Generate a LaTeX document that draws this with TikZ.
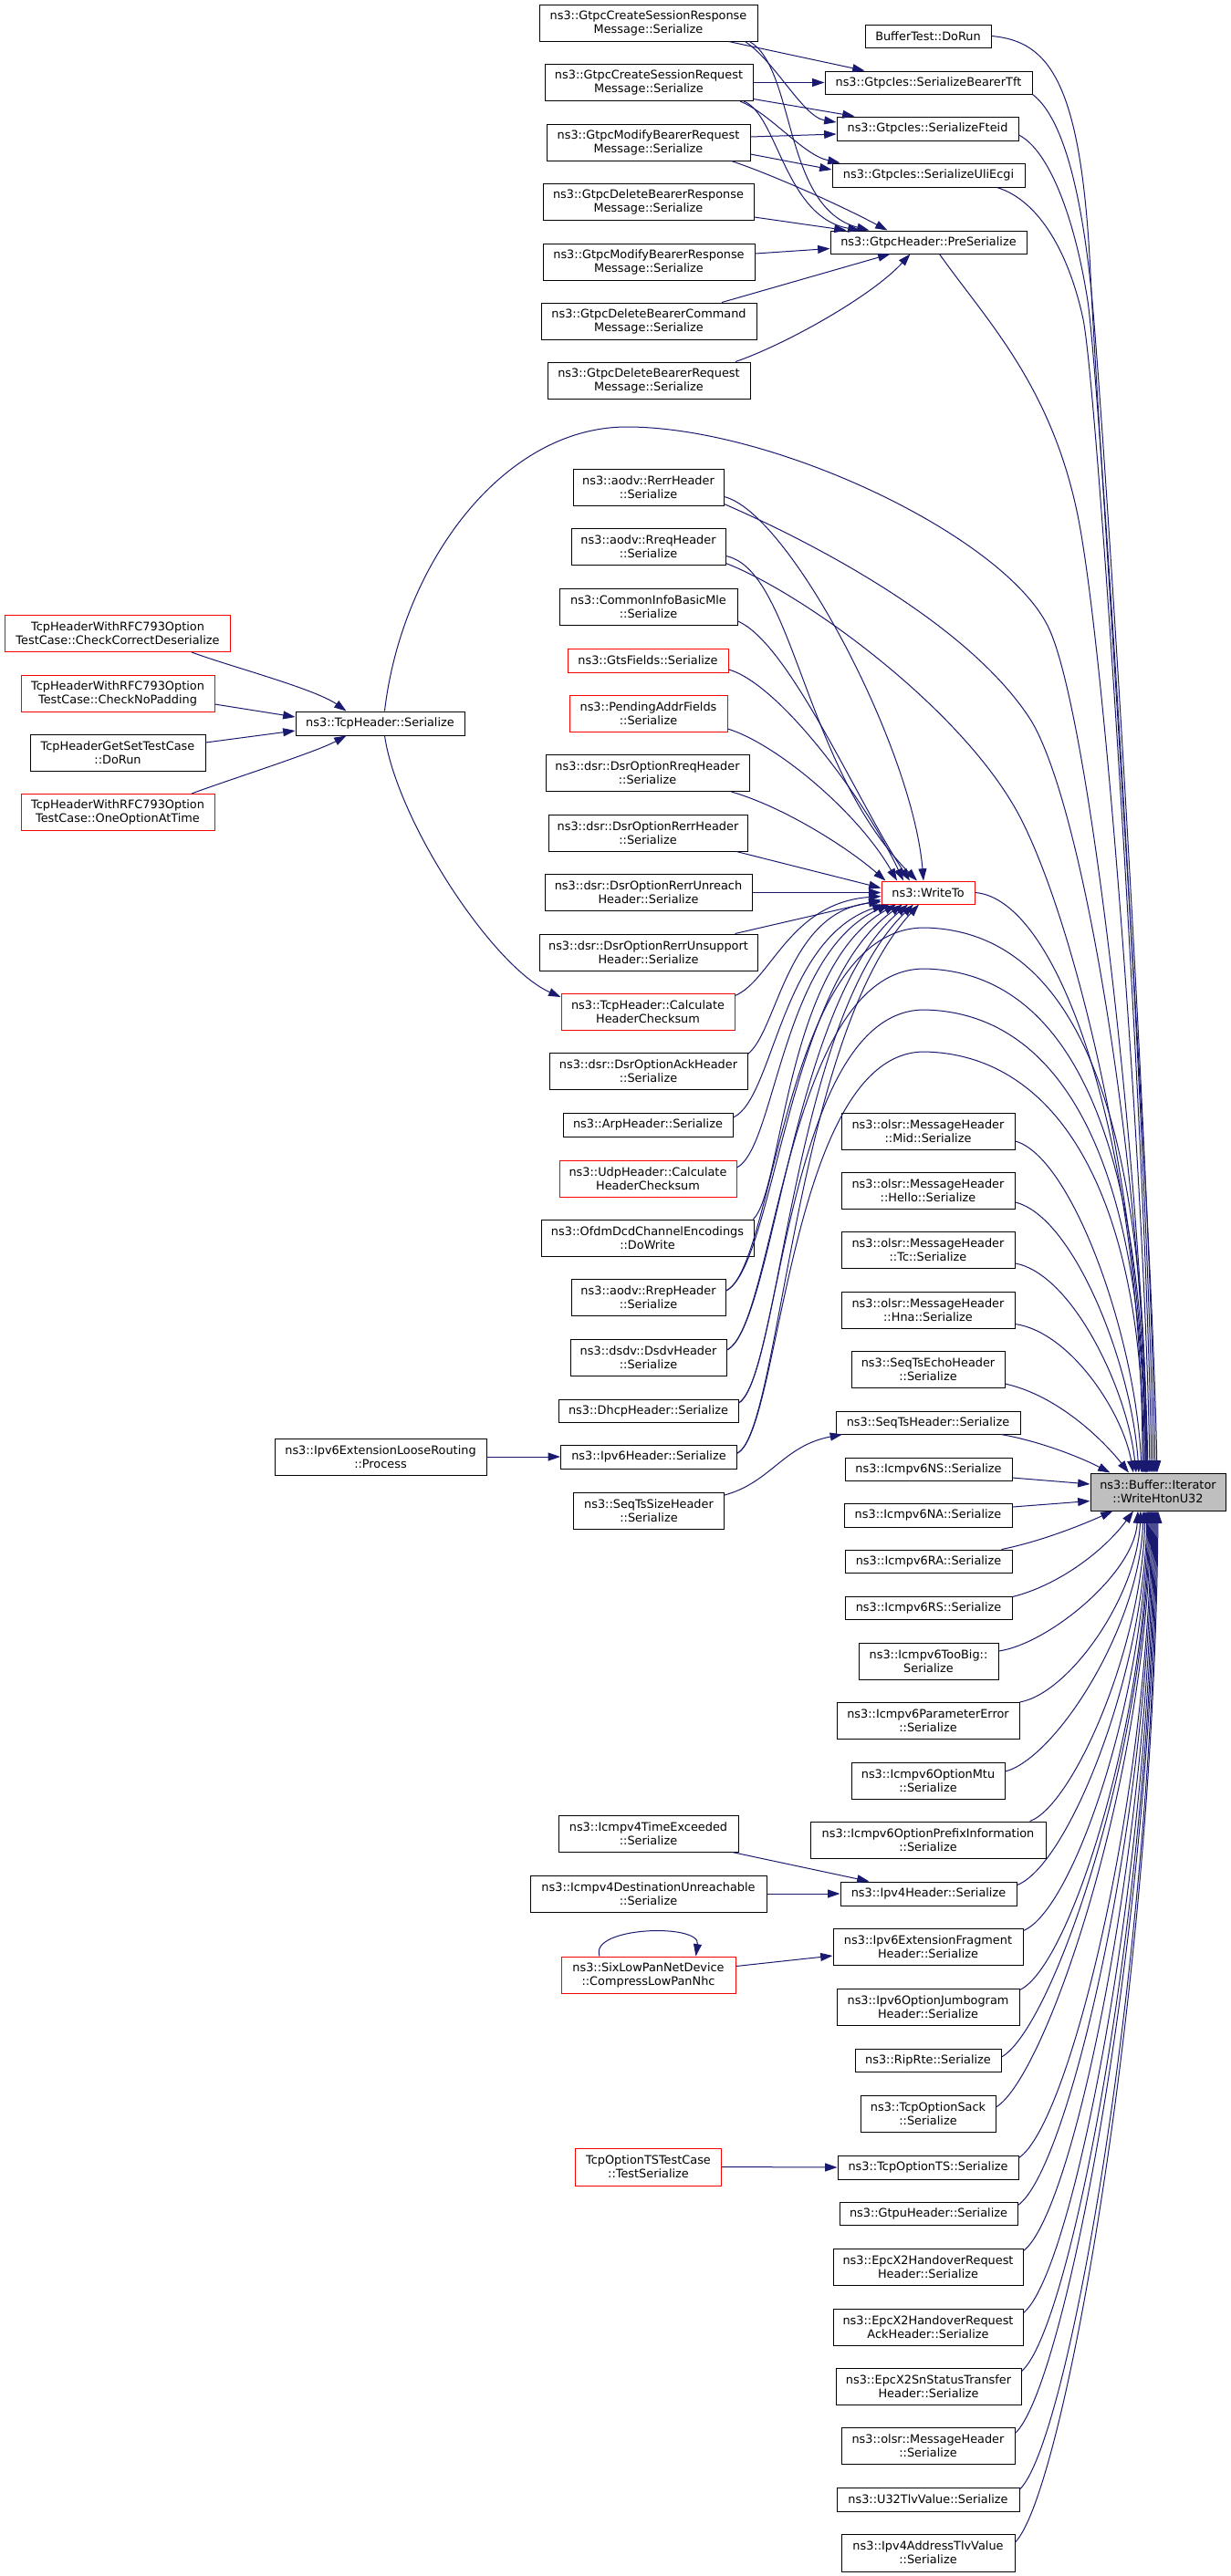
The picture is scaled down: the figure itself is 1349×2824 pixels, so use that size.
\documentclass[tikz,border=0pt]{standalone}
\usepackage{fontspec}
\newfontfamily\nf{DejaVu Sans}
\usetikzlibrary{arrows.meta,calc}
\definecolor{edgec}{HTML}{191970}
\definecolor{rootfill}{HTML}{BFBFBF}
\tikzset{
 bx/.style={draw=black, line width=0.75pt, fill=white, inner sep=0pt, align=center, font={\nf\fontsize{9.65}{11.25}\selectfont}},
 rd/.style={draw=red},
 e/.style={draw=edgec, line width=0.75pt, -{Triangle[length=10pt,width=6.7pt]}},
}
\newcommand{\mkn}[7]{\node[bx,#6,minimum width=#4*0.75pt,minimum height=#5*0.75pt] (#1) at (#2,#3) {#7};}
\begin{document}
\begin{tikzpicture}[x=0.75pt,y=-0.75pt]
\fill[white] (0,0) rectangle (1349,2824);
\useasboundingbox (0,0) rectangle (1349,2824);
% ---- Gtpc callers
\mkn{g1}{710.5}{25}{239}{40}{}{ns3::GtpcCreateSessionResponse\\Message::Serialize}
\mkn{g2}{711}{90.5}{228}{40}{}{ns3::GtpcCreateSessionRequest\\Message::Serialize}
\mkn{g3}{710.5}{156}{223}{40}{}{ns3::GtpcModifyBearerRequest\\Message::Serialize}
\mkn{g4}{710.5}{221}{231}{40}{}{ns3::GtpcDeleteBearerResponse\\Message::Serialize}
\mkn{g5}{711}{287}{232}{40}{}{ns3::GtpcModifyBearerResponse\\Message::Serialize}
\mkn{g6}{711}{352}{236}{40}{}{ns3::GtpcDeleteBearerCommand\\Message::Serialize}
\mkn{g7}{711}{417}{222}{40}{}{ns3::GtpcDeleteBearerRequest\\Message::Serialize}
\mkn{bt}{1017}{39.5}{138}{25}{}{BufferTest::DoRun}
\mkn{tft}{1017.5}{90.5}{227}{25}{}{ns3::GtpcIes::SerializeBearerTft}
\mkn{fteid}{1016.5}{141}{199}{26}{}{ns3::GtpcIes::SerializeFteid}
\mkn{uli}{1017.5}{192}{211}{26}{}{ns3::GtpcIes::SerializeUliEcgi}
\mkn{pre}{1017.5}{265.5}{215}{25}{}{ns3::GtpcHeader::PreSerialize}
% ---- middle column
\mkn{rerr}{710.5}{534.5}{165}{40}{}{ns3::aodv::RerrHeader\\::Serialize}
\mkn{rreq}{710.5}{599.5}{169}{40}{}{ns3::aodv::RreqHeader\\::Serialize}
\mkn{cib}{710.5}{665}{195}{40}{}{ns3::CommonInfoBasicMle\\::Serialize}
\mkn{gts}{710}{724}{176}{26}{rd}{ns3::GtsFields::Serialize}
\mkn{pend}{710.5}{782}{173}{40}{rd}{ns3::PendingAddrFields\\::Serialize}
\mkn{drreq}{709.5}{847.5}{223}{40}{}{ns3::dsr::DsrOptionRreqHeader\\::Serialize}
\mkn{drerr}{710}{913}{218}{40}{}{ns3::dsr::DsrOptionRerrHeader\\::Serialize}
\mkn{unreach}{710.5}{978.5}{227}{40}{}{ns3::dsr::DsrOptionRerrUnreach\\Header::Serialize}
\mkn{unsup}{710.5}{1044}{239}{40}{}{ns3::dsr::DsrOptionRerrUnsupport\\Header::Serialize}
\mkn{tcpcs}{710}{1109}{190}{40}{rd}{ns3::TcpHeader::Calculate\\HeaderChecksum}
\mkn{ack}{710.5}{1174.5}{217}{40}{}{ns3::dsr::DsrOptionAckHeader\\::Serialize}
\mkn{arp}{710}{1233}{186}{26}{}{ns3::ArpHeader::Serialize}
\mkn{udpcs}{710}{1292}{194}{40}{rd}{ns3::UdpHeader::Calculate\\HeaderChecksum}
\mkn{ofdm}{709.5}{1357}{233}{40}{}{ns3::OfdmDcdChannelEncodings\\::DoWrite}
\mkn{rrep}{710.5}{1422}{169}{40}{}{ns3::aodv::RrepHeader\\::Serialize}
\mkn{dsdv}{710.5}{1488}{171}{40}{}{ns3::dsdv::DsdvHeader\\::Serialize}
\mkn{dhcp}{710.5}{1546.5}{197}{25}{}{ns3::DhcpHeader::Serialize}
\mkn{ipv6}{711}{1597}{193}{26}{}{ns3::Ipv6Header::Serialize}
\mkn{seqsize}{711}{1656}{165}{40}{}{ns3::SeqTsSizeHeader\\::Serialize}
\mkn{i4te}{710.5}{2010}{197}{40}{}{ns3::Icmpv4TimeExceeded\\::Serialize}
\mkn{i4du}{710.5}{2076}{259}{40}{}{ns3::Icmpv4DestinationUnreachable\\::Serialize}
\mkn{sixlow}{710.5}{2165}{191}{40}{rd}{ns3::SixLowPanNetDevice\\::CompressLowPanNhc}
\mkn{tsts}{710.5}{2375.5}{160}{41}{rd}{TcpOptionTSTestCase\\::TestSerialize}
% ---- right column
\mkn{wt}{1017}{978.5}{102}{25}{rd}{ns3::WriteTo}
\mkn{mid}{1017}{1240}{190}{40}{}{ns3::olsr::MessageHeader\\::Mid::Serialize}
\mkn{hello}{1017}{1305}{190}{40}{}{ns3::olsr::MessageHeader\\::Hello::Serialize}
\mkn{tc}{1017}{1370.5}{190}{40}{}{ns3::olsr::MessageHeader\\::Tc::Serialize}
\mkn{hna}{1017}{1436}{190}{40}{}{ns3::olsr::MessageHeader\\::Hna::Serialize}
\mkn{echo}{1017}{1501}{168}{40}{}{ns3::SeqTsEchoHeader\\::Serialize}
\mkn{seqh}{1017}{1559.5}{202}{25}{}{ns3::SeqTsHeader::Serialize}
\mkn{ns}{1017.5}{1610.5}{183}{25}{}{ns3::Icmpv6NS::Serialize}
\mkn{na}{1017}{1661}{184}{26}{}{ns3::Icmpv6NA::Serialize}
\mkn{ra}{1017.5}{1711.5}{183}{25}{}{ns3::Icmpv6RA::Serialize}
\mkn{rs}{1017.5}{1762.5}{183}{25}{}{ns3::Icmpv6RS::Serialize}
\mkn{toobig}{1017.5}{1821}{153}{40}{}{ns3::Icmpv6TooBig::\\Serialize}
\mkn{perr}{1017}{1886.5}{200}{40}{}{ns3::Icmpv6ParameterError\\::Serialize}
\mkn{mtu}{1017}{1952}{168}{40}{}{ns3::Icmpv6OptionMtu\\::Serialize}
\mkn{pinfo}{1017}{2017}{258}{40}{}{ns3::Icmpv6OptionPrefixInformation\\::Serialize}
\mkn{ipv4h}{1017.5}{2076}{193}{26}{}{ns3::Ipv4Header::Serialize}
\mkn{frag}{1017}{2134}{208}{40}{}{ns3::Ipv6ExtensionFragment\\Header::Serialize}
\mkn{jumbo}{1017}{2200}{200}{40}{}{ns3::Ipv6OptionJumbogram\\Header::Serialize}
\mkn{rip}{1017}{2258.5}{160}{25}{}{ns3::RipRte::Serialize}
\mkn{sack}{1017}{2317}{148}{40}{}{ns3::TcpOptionSack\\::Serialize}
\mkn{ots}{1017}{2376}{198}{26}{}{ns3::TcpOptionTS::Serialize}
\mkn{gtpu}{1017.5}{2426.5}{195}{25}{}{ns3::GtpuHeader::Serialize}
\mkn{hr}{1017}{2485}{208}{40}{}{ns3::EpcX2HandoverRequest\\Header::Serialize}
\mkn{hrack}{1017}{2551}{208}{40}{}{ns3::EpcX2HandoverRequest\\AckHeader::Serialize}
\mkn{sn}{1017.5}{2616}{203}{40}{}{ns3::EpcX2SnStatusTransfer\\Header::Serialize}
\mkn{omh}{1017}{2681}{190}{40}{}{ns3::olsr::MessageHeader\\::Serialize}
\mkn{u32}{1017}{2740}{200}{26}{}{ns3::U32TlvValue::Serialize}
\mkn{i4tlv}{1017}{2798.5}{190}{41}{}{ns3::Ipv4AddressTlvValue\\::Serialize}
\mkn{W}{1269}{1635.5}{148}{41}{fill=rootfill}{ns3::Buffer::Iterator\\::WriteHtonU32}
% ---- left
\mkn{tcpser}{416.5}{793}{185}{26}{}{ns3::TcpHeader::Serialize}
\mkn{l1}{129}{694.5}{247}{40}{rd}{TcpHeaderWithRFC793Option\\TestCase::CheckCorrectDeserialize}
\mkn{l2}{129}{760}{212}{40}{rd}{TcpHeaderWithRFC793Option\\TestCase::CheckNoPadding}
\mkn{l3}{129}{825}{192}{40}{}{TcpHeaderGetSetTestCase\\::DoRun}
\mkn{l4}{129}{890.5}{212}{40}{rd}{TcpHeaderWithRFC793Option\\TestCase::OneOptionAtTime}
\mkn{loose}{417}{1597}{232}{40}{}{ns3::Ipv6ExtensionLooseRouting\\::Process}

% ================= edges
% Gtpc
\draw[e] ($(g1.south)+(88,0)$) -- ($(tft.north)+(-70,0)$);
\draw[e] ($(g1.south)+(106,0)$) .. controls (850,68) and (880,128) .. ($(fteid.west)+(0,-7)$);
\draw[e] ($(g1.south)+(111,0)$) .. controls (872,75) and (858,228) .. ($(pre.north)+(-65,0)$);
\draw[e] (g2.east) -- (tft.west);
\draw[e] ($(g2.east)+(0,18)$) -- ($(fteid.north)+(-80,0)$);
\draw[e] ($(g2.south)+(100,0)$) .. controls (845,125) and (880,170) .. ($(uli.north)+(-97,0)$);
\draw[e] ($(g2.south)+(104,0)$) .. controls (852,125) and (860,238) .. ($(pre.north)+(-75,0)$);
\draw[e] ($(g3.east)+(0,-6)$) -- ($(fteid.west)+(0,6)$);
\draw[e] ($(g3.east)+(0,13)$) -- ($(uli.west)+(0,-6)$);
\draw[e] ($(g3.south)+(91,0)$) .. controls (842,190) and (915,222) .. ($(pre.north)+(-45,0)$);
\draw[e] ($(g4.east)+(0,17)$) -- ($(pre.north)+(-90,0)$);
\draw[e] ($(g5.east)+(0,-9)$) -- ($(pre.west)+(0,7)$);
\draw[e] ($(g6.north)+(80,0)$) -- ($(pre.south)+(-42,0)$);
\draw[e] ($(g7.north)+(95,0)$) .. controls (860,378) and (955,325) .. ($(pre.south)+(-20,0)$);
% long edges from top to WriteHtonU32
\draw[e] (bt.east) .. controls (1150,45) and (1185,90) .. (1195,300) .. controls (1205,510) and (1262,1300) .. ($(W.north)+(-1,0)$);
\draw[e] (tft.south east) .. controls (1160,125) and (1182,190) .. (1195,310) .. controls (1207,420) and (1260,1250) .. ($(W.north)+(-3,0)$);
\draw[e] ($(fteid.east)+(0,7)$) .. controls (1150,165) and (1178,240) .. (1192,330) .. controls (1205,420) and (1258,1250) .. ($(W.north)+(-5,0)$);
\draw[e] ($(uli.south)+(75,0)$) .. controls (1140,220) and (1172,280) .. (1187,350) .. controls (1203,430) and (1256,1250) .. ($(W.north)+(-7,0)$);
\draw[e] ($(pre.south)+(12,0)$) .. controls (1080,350) and (1150,420) .. (1180,560) .. controls (1210,700) and (1255,1300) .. ($(W.north)+(-9,0)$);
\draw[e] ($(tcpser.north)+(5,0)$) .. controls (440,620) and (550,468) .. (687,468) .. controls (850,468) and (1105,590) .. (1150,690) .. controls (1195,790) and (1252,1300) .. ($(W.north)+(-11,0)$);
% TcpHeader
\draw[e] ($(tcpser.south)+(5,0)$) .. controls (435,900) and (540,1060) .. ($(tcpcs.west)+(0,-16)$);
\draw[e] ($(l1.south)+(81,0)$) .. controls (250,730) and (345,755) .. ($(tcpser.north)+(-37,0)$);
\draw[e] ($(l2.east)+(0,12)$) -- ($(tcpser.west)+(0,-7)$);
\draw[e] ($(l3.east)+(0,-11)$) -- ($(tcpser.west)+(0,8)$);
\draw[e] ($(l4.north)+(81,0)$) .. controls (250,855) and (345,825) .. ($(tcpser.south)+(-37,0)$);
\draw[e] (loose.east) -- (ipv6.west);
\draw[e] ($(seqsize.east)+(0,-17)$) .. controls (845,1625) and (858,1585) .. ($(seqh.south)+(-94,0)$);
\draw[e] ($(i4te.south)+(92,0)$) -- ($(ipv4h.north)+(-65,0)$);
\draw[e] (i4du.east) -- (ipv4h.west);
\draw[e] ($(sixlow.east)+(0,-9.5)$) -- ($(frag.west)+(0,10)$);
\draw[e] ($(sixlow.north)+(-53.5,0)$) .. controls (645,2112) and (768,2108) .. ($(sixlow.north)+(52,0)$);
\draw[e] (tsts.east) -- (ots.west);
% to WriteTo
\draw[e] ($(rerr.east)+(0,10)$) .. controls (865,562) and (1000,820) .. ($(wt.north)+(-5,0)$);
\draw[e] ($(rreq.east)+(0,10)$) .. controls (870,625) and (880,840) .. ($(wt.north)+(-12,0)$);
\draw[e] ($(cib.east)+(0,16)$) .. controls (865,705) and (940,880) .. ($(wt.north)+(-20,0)$);
\draw[e] ($(gts.east)+(0,10)$) .. controls (855,750) and (950,880) .. ($(wt.north)+(-27,0)$);
\draw[e] ($(pend.east)+(0,17)$) .. controls (850,815) and (940,890) .. ($(wt.north)+(-34,0)$);
\draw[e] ($(drreq.south)+(92,0)$) .. controls (860,885) and (930,930) .. ($(wt.north west)+(5,0)$);
\draw[e] ($(drerr.south)+(97,0)$) -- ($(wt.west)+(0,-5)$);
\draw[e] (unreach.east) -- (wt.west);
\draw[e] ($(unsup.north)+(95,0)$) -- ($(wt.west)+(0,8)$);
\draw[e] ($(tcpcs.north east)+(0,3)$) .. controls (845,1075) and (865,990) .. ($(wt.west)+(0,4)$);
\draw[e] ($(ack.east)+(0,-19)$) .. controls (852,1130) and (862,1000) .. ($(wt.west)+(0,10)$);
\draw[e] ($(arp.east)+(0,-8)$) .. controls (848,1205) and (855,1030) .. ($(wt.south west)+(4,0)$);
\draw[e] ($(udpcs.east)+(0,-12)$) .. controls (850,1258) and (856,1045) .. ($(wt.south west)+(9,0)$);
\draw[e] ($(ofdm.north east)+(-1,0)$) .. controls (858,1305) and (860,1060) .. ($(wt.south)+(-35,0)$);
\draw[e] ($(rrep.east)+(0,-7)$) .. controls (848,1390) and (862,1080) .. ($(wt.south)+(-28,0)$);
\draw[e] ($(dsdv.east)+(0,-8)$) .. controls (848,1455) and (866,1100) .. ($(wt.south)+(-22,0)$);
\draw[e] ($(dhcp.east)+(0,-8.5)$) .. controls (855,1510) and (868,1120) .. ($(wt.south)+(-16,0)$);
\draw[e] ($(ipv6.east)+(0,-4)$) .. controls (855,1570) and (870,1140) .. ($(wt.south)+(-10,0)$);
% arcs from middle column to WriteHtonU32
\draw[e] ($(rrep.east)+(0,-7)$) .. controls (850,1390) and (858,1017) .. (1013,1017) .. controls (1170,1020) and (1257,1200) .. ($(W.north)+(-13,0)$);
\draw[e] ($(dsdv.east)+(0,-8)$) .. controls (850,1455) and (860,1062) .. (1013,1062) .. controls (1168,1065) and (1256,1240) .. ($(W.north)+(-14,0)$);
\draw[e] ($(dhcp.east)+(0,-8.5)$) .. controls (856,1510) and (862,1107) .. (1013,1107) .. controls (1166,1110) and (1255,1280) .. ($(W.north)+(-15,0)$);
\draw[e] ($(ipv6.east)+(0,-4)$) .. controls (856,1570) and (864,1153) .. (1013,1153) .. controls (1164,1156) and (1254,1320) .. ($(W.north)+(-16,0)$);
\draw[e] ($(rerr.east)+(0,18)$) .. controls (880,590) and (1060,680) .. (1130,790) .. controls (1190,890) and (1254,1300) .. ($(W.north)+(-12,0)$);
\draw[e] ($(rreq.east)+(0,18)$) .. controls (880,650) and (1060,780) .. (1120,900) .. controls (1180,1020) and (1253,1320) .. ($(W.north)+(-13,0)$);
\draw[e] (wt.east) .. controls (1160,985) and (1252,1250) .. ($(W.north)+(-17,0)$);
% right column to WriteHtonU32 (above)
\draw[e] ($(mid.east)+(0,11)$) .. controls (1175,1268) and (1245,1467) .. ($(W.north)+(-18,0)$);
\draw[e] ($(hello.east)+(0,13)$) .. controls (1176,1333) and (1240,1494) .. ($(W.north)+(-21,0)$);
\draw[e] ($(tc.east)+(0,14.5)$) .. controls (1174,1396) and (1235,1521) .. ($(W.north)+(-24,0)$);
\draw[e] ($(hna.east)+(0,15.5)$) .. controls (1172,1460) and (1230,1547) .. ($(W.north)+(-27,0)$);
\draw[e] ($(echo.east)+(0,16)$) .. controls (1160,1530) and (1210,1580) .. ($(W.north)+(-32,0)$);
\draw[e] ($(seqh.south)+(80,0)$) .. controls (1140,1580) and (1185,1598) .. ($(W.north west)+(22,0)$);
\draw[e] ($(ns.east)+(0,9.5)$) -- ($(W.west)+(0,-8.5)$);
\draw[e] ($(na.east)+(0,-9)$) -- ($(W.west)+(0,10)$);
% right column to WriteHtonU32 (below)
\draw[e] ($(ra.north)+(80,0)$) .. controls (1140,1690) and (1185,1672) .. ($(W.south west)+(25,0)$);
\draw[e] ($(rs.north east)+(0,1)$) .. controls (1160,1738) and (1210,1700) .. ($(W.south)+(-27,0)$);
\draw[e] ($(toobig.east)+(0,-11)$) .. controls (1149,1802) and (1243,1725) .. ($(W.south)+(-22,0)$);
\draw[e] (perr.north east) .. controls (1172,1856) and (1246,1750) .. ($(W.south)+(-19,0)$);
\draw[e] ($(mtu.east)+(0,-10)$) .. controls (1156,1928) and (1249,1785) .. ($(W.south)+(-16,0)$);
\draw[e] ($(pinfo.north east)+(-18,0)$) .. controls (1175,1980) and (1251,1809) .. ($(W.south)+(-14,0)$);
\draw[e] ($(ipv4h.east)+(0,-9.5)$) .. controls (1169,2046) and (1253,1841) .. ($(W.south)+(-12,0)$);
\draw[e] ($(frag.north east)+(0,3)$) .. controls (1176,2094) and (1254,1863) .. ($(W.south)+(-11,0)$);
\draw[e] ($(jumbo.north east)+(0,2)$) .. controls (1172,2156) and (1255,1893) .. ($(W.south)+(-10,0)$);
\draw[e] ($(rip.east)+(0,-3.5)$) .. controls (1152,2225) and (1256,1926) .. ($(W.south)+(-9,0)$);
\draw[e] ($(sack.east)+(0,-7)$) .. controls (1146,2277) and (1257,1950) .. ($(W.south)+(-8,0)$);
\draw[e] ($(ots.north east)+(0,3)$) .. controls (1171,2330) and (1258,1976) .. ($(W.south)+(-7,0)$);
\draw[e] ($(gtpu.north east)+(0,4)$) .. controls (1170,2380) and (1259,1999) .. ($(W.south)+(-6,0)$);
\draw[e] ($(hr.north east)+(0,3)$) .. controls (1176,2427) and (1260,2021) .. ($(W.south)+(-5,0)$);
\draw[e] ($(hrack.north east)+(0,5)$) .. controls (1176,2492) and (1261,2052) .. ($(W.south)+(-4,0)$);
\draw[e] ($(sn.north east)+(0,4)$) .. controls (1174,2553) and (1262,2081) .. ($(W.south)+(-3,0)$);
\draw[e] ($(omh.north east)+(0,7)$) .. controls (1167,2617) and (1263,2111) .. ($(W.south)+(-2,0)$);
\draw[e] ($(u32.north east)+(0,2.5)$) .. controls (1172,2676) and (1264,2139) .. ($(W.south)+(-1,0)$);
\draw[e] ($(i4tlv.north east)+(0,9.5)$) .. controls (1167,2731) and (1265,2165) .. (W.south);
\end{tikzpicture}
\end{document}
